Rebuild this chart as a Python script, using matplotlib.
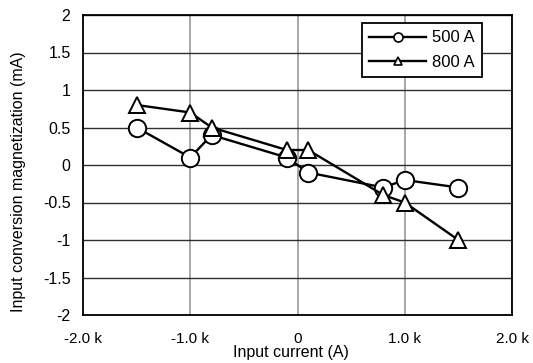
import matplotlib
matplotlib.use("Agg")
import matplotlib.pyplot as plt
from matplotlib.lines import Line2D

plt.rcParams['font.family'] = ['Liberation Sans', 'DejaVu Sans']

x_vals = [-1500, -1000, -800, -100, 100, 800, 1000, 1500]
y_500 = [0.5, 0.1, 0.4, 0.1, -0.1, -0.3, -0.2, -0.3]
y_800 = [0.8, 0.7, 0.5, 0.2, 0.2, -0.4, -0.5, -1.0]
xticks = [-2000, -1000, 0, 1000, 2000]
xticklabels = ['-2.0 k', '-1.0 k', '0', '1.0 k', '2.0 k']
yticks = [-2, -1.5, -1, -0.5, 0, 0.5, 1, 1.5, 2]
yticklabels = ['-2', '-1.5', '-1', '-0.5', '0', '0.5', '1', '1.5', '2']

W, H = 533, 363
fig = plt.figure(figsize=(W/100, H/100), dpi=100)
ax = fig.add_axes([83/W, 1 - 315/H, (512-83)/W, (315-15)/H])

ax.plot(x_vals, y_500, color='black', lw=1.7, marker='o', ms=12.5,
        mfc='white', mec='black', mew=1.4, zorder=3)
ax.plot(x_vals, y_800, color='black', lw=1.7, marker='^', ms=11,
        mfc='white', mec='black', mew=1.4, zorder=3)

ax.set_xlim(-2000, 2000)
ax.set_ylim(-2, 2)
ax.set_xticks(xticks)
ax.set_xticklabels(xticklabels)
ax.set_yticks(yticks)
ax.set_yticklabels(yticklabels)
ax.tick_params(axis='x', length=0, labelsize=11, pad=12)
ax.tick_params(axis='y', length=0, labelsize=11.5, pad=9)
ax.xaxis.grid(True, color='#a0a0a0', lw=1.3)
ax.yaxis.grid(True, color='#303030', lw=1.0)
ax.set_axisbelow(True)
for s in ax.spines.values():
    s.set_color('black')
    s.set_linewidth(1.3)

fig.text(291/W, 1 - 352/H, 'Input current (A)', fontsize=11.5, ha='center', va='center')
fig.text(19/W, 1 - 182/H, 'Input conversion magnetization (mA)', fontsize=11.5,
         ha='center', va='center', rotation=90)

handles = [
    Line2D([], [], color='black', lw=1.7, marker='o', ms=6.5, mfc='white', mec='black', mew=1.2),
    Line2D([], [], color='black', lw=1.7, marker='^', ms=5.5, mfc='white', mec='black', mew=1.2),
]
leg = ax.legend(handles, ['500 A', '800 A'], loc='upper right',
                bbox_to_anchor=(482/W, 1 - 23/H), bbox_transform=fig.transFigure,
                borderaxespad=0, fontsize=12, frameon=True, fancybox=False,
                edgecolor='black', handlelength=3.4, handletextpad=0.35,
                borderpad=0.45, labelspacing=0.55)
leg.get_frame().set_linewidth(1.3)
leg.get_frame().set_alpha(1)

fig.savefig('out.png', dpi=100)
